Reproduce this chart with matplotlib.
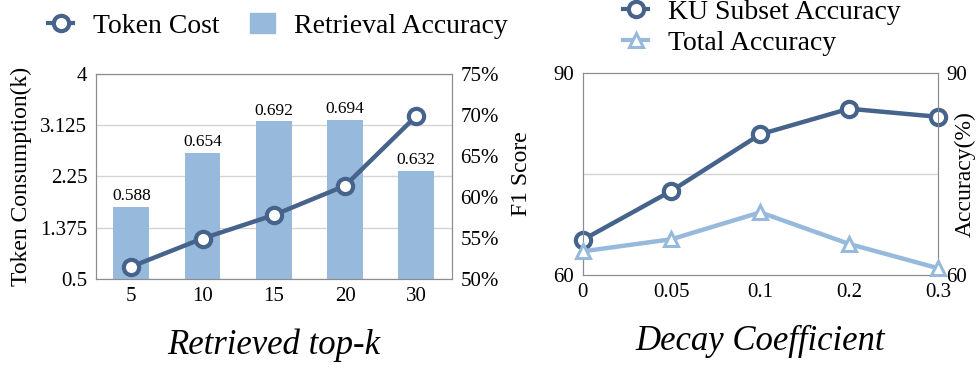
import numpy as np
import matplotlib
matplotlib.use("Agg")
from matplotlib import pyplot as plt
from matplotlib.ticker import FuncFormatter

plt.rcParams['font.family'] = ['Liberation Serif', 'DejaVu Serif']

# left panel data
topk = ["5", "10", "15", "20", "30"]
token_cost = [0.71, 1.19, 1.59, 2.09, 3.28]
retrieval_acc = [0.588, 0.654, 0.692, 0.694, 0.632]

# right panel data
decay = ["0", "0.05", "0.1", "0.2", "0.3"]
ku_acc = [65.2, 72.5, 80.9, 84.7, 83.5]
total_acc = [63.5, 65.3, 69.3, 64.6, 61.0]

dark = "#46638B"
light = "#97B9DC"
spine_col = "#8c8c8c"
grid_col = "#d4d4d4"

fig = plt.figure(figsize=(9.76, 3.69), dpi=100)

# ---------- left: token cost vs retrieval accuracy
ax1 = fig.add_axes([0.098, 0.244, 0.365, 0.556])
ax1b = ax1.twinx()
x = np.arange(len(topk))

ax1b.bar(x, retrieval_acc, width=0.5, color=light, zorder=2)
for xi, v in zip(x, retrieval_acc):
    ax1b.text(xi, v + 0.003, "%.3f" % v, ha="center", va="bottom", fontsize=12.5)
ax1b.set_ylim(0.50, 0.75)
ax1b.set_yticks([0.50, 0.55, 0.60, 0.65, 0.70, 0.75])
ax1b.yaxis.set_major_formatter(FuncFormatter(lambda v, p: "%d%%" % round(v * 100)))

ax1.set_ylim(0.5, 4)
ax1.set_yticks([0.5, 1.375, 2.25, 3.125, 4])
ax1.set_yticklabels(["0.5", "1.375", "2.25", "3.125", "4"])
ax1.yaxis.grid(True, color=grid_col, lw=1)
ax1.set_xlim(-0.5, 4.5)
ax1.set_xticks(x)
ax1.set_xticklabels(topk)
ax1.set_ylabel("Token Consumption(k)", fontsize=17)
ax1.yaxis.set_label_coords(-0.18, 0.5)
ax1.set_xlabel("Retrieved top-k", fontsize=25, style="italic", labelpad=16)

# line on a third axis so it sits above the bars
ax1c = ax1b.twinx()
ax1c.set_ylim(0.5, 4)
ax1c.axis("off")
ax1c.plot(x, token_cost, color=dark, lw=3.2, marker="o", ms=11, mfc="white",
          mec=dark, mew=3, zorder=5)
ax1b.yaxis.tick_right()

for a in (ax1, ax1b):
    a.tick_params(length=0, labelsize=15, pad=6)
    for s in a.spines.values():
        s.set_color(spine_col)
ax1.patch.set_visible(False)

# ---------- right: decay coefficient
ax2 = fig.add_axes([0.597, 0.255, 0.364, 0.547])
ax2b = ax2.twinx()
x2 = np.arange(len(decay))
ax2.plot(x2, ku_acc, color=dark, lw=3.2, marker="o", ms=11, mfc="white",
         mec=dark, mew=3, zorder=5, clip_on=False)
ax2b.plot(x2, total_acc, color=light, lw=3.2, marker="^", ms=10, mfc="white",
          mec=light, mew=2.2, zorder=5, clip_on=False)
ax2.set_ylim(60, 90)
ax2b.set_ylim(60, 90)
ax2.set_yticks([60, 90])
ax2b.set_yticks([60, 90])
ax2.axhline(75, color=grid_col, lw=1, zorder=0)
ax2.set_xlim(0, 4)
ax2.set_xticks(x2)
ax2.set_xticklabels(decay)
ax2.set_ylabel("F1 Score", fontsize=17)
ax2.yaxis.set_label_coords(-0.144, 0.5)
ax2b.set_ylabel("Accuracy(%)", fontsize=17)
ax2b.yaxis.set_label_coords(1.048, 0.5)
ax2.set_xlabel("Decay Coefficient", fontsize=25, style="italic", labelpad=16)
ax2b.set_zorder(ax2.get_zorder() + 1)
ax2b.patch.set_visible(False)
for a in (ax2, ax2b):
    a.tick_params(length=0, labelsize=15, pad=6)
    for s in a.spines.values():
        s.set_color(spine_col)

# ---------- legends
h1, = ax1.plot([], [], color=dark, lw=3, marker="o", ms=11, mfc="white", mec=dark, mew=3)
h2 = plt.Rectangle((0, 0), 1, 1, color=light)
fig.legend([h1, h2], ["Token Cost", "Retrieval Accuracy"], loc="center left",
           bbox_to_anchor=(0.024, 0.93), ncol=2, frameon=False, fontsize=20,
           handlelength=0.9, handletextpad=0.7, columnspacing=1.1)

h3, = ax2.plot([], [], color=dark, lw=3, marker="o", ms=11, mfc="white", mec=dark, mew=3)
h4, = ax2.plot([], [], color=light, lw=3, marker="^", ms=10, mfc="white", mec=light, mew=2.2)
fig.legend([h3, h4], ["KU Subset Accuracy", "Total Accuracy"], loc="center left",
           bbox_to_anchor=(0.613, 0.925), ncol=1, frameon=False, fontsize=20,
           handlelength=0.9, handletextpad=0.7, labelspacing=0.2)

fig.savefig("out.png", dpi=100)
